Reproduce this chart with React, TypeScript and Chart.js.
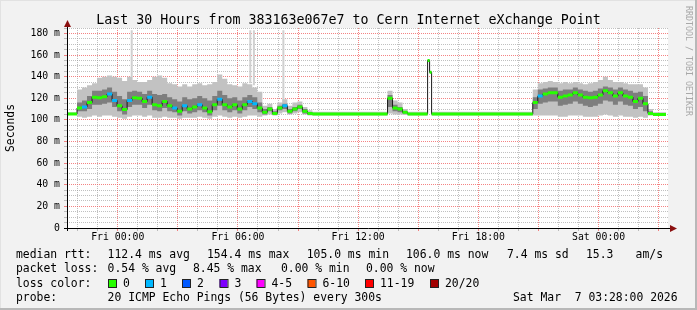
import React, { useEffect, useRef } from 'react';
import { Chart, registerables } from 'chart.js';

Chart.register(...registerables);

// ---------- data (hours since Thu 21:28, step start of each sample) ----------
const hours = [
  0, 0.5, 0.75, 1, 1.25, 1.5, 1.75, 2, 2.25, 2.5, 2.75, 3, 3.25, 3.5, 3.75, 4, 4.25, 4.5, 4.75, 5,
  5.25, 5.5, 5.75, 6, 6.25, 6.5, 6.75, 7, 7.25, 7.5, 7.75, 8, 8.25, 8.5, 8.75, 9, 9.25, 9.5, 9.75, 10,
  10.25, 10.5, 10.75, 11, 11.25, 11.5, 11.75, 12, 12.25, 16, 16.25, 16.5, 16.75, 17, 18, 18.1, 18.2,
  23.25, 23.5, 23.75, 24, 24.25, 24.5, 24.75, 25, 25.25, 25.5, 25.75, 26, 26.25, 26.5, 26.75, 27,
  27.25, 27.5, 27.75, 28, 28.25, 28.5, 28.75, 29, 29.25,
];
const endHour = 29.9;

// median rtt in ms
const median = [
  105.5,
  111, 112, 116, 121, 120.5, 121.5, 124, 118, 113, 109.5, 118, 120.5, 120, 117, 121, 114, 113, 117, 113,
  111, 108, 113, 110, 112, 114, 111, 107.5, 114, 119, 114, 112, 114, 110, 114, 117, 115, 111, 107, 110,
  106, 111, 113, 108, 110, 112, 108, 106,
  105.5,
  120, 111, 110, 107,
  105.5,
  155, 144, 105.5,
  116, 122, 124, 125, 125, 121, 122, 123, 125, 123, 121, 120.5, 121, 123, 127, 125, 122, 125, 122, 121,
  117, 120, 115, 106, 105,
];

// lost pings (of 20) per sample
const lostPings = [
  0,
  0, 1, 0, 0, 0, 0, 1, 1, 0, 0, 1, 0, 0, 0, 1, 0, 0, 0, 0,
  1, 0, 1, 0, 0, 1, 0, 0, 0, 1, 0, 0, 0, 0, 0, 1, 1, 0, 0, 0,
  0, 0, 1, 0, 0, 0, 0, 0,
  0,
  0, 0, 0, 0,
  0,
  0, 0, 0,
  0, 1, 0, 0, 0, 0, 0, 0, 0, 0, 0, 0, 0, 0, 0, 0, 0, 0, 0, 0,
  0, 0, 0, 0, 0,
];

// smoke (ping spread) in ms
const smokeMax = [
  107,
  128, 130, 132, 134, 139, 140, 141, 140, 139, 136, 140, 137, 135, 135, 137, 140, 141, 139, 134,
  133, 131, 133, 131, 133, 134, 132, 133, 135, 142, 138, 133, 132, 131, 134, 133, 130, 126, 113, 115,
  110, 116, 119, 113, 116, 117, 112, 109,
  107.5,
  127, 118, 116, 110,
  107.5,
  156, 145, 107.5,
  128, 134, 135, 136, 135, 134, 135, 134, 135, 134, 133, 134, 135, 137, 140, 137, 135, 135, 134, 133,
  133, 133, 130, 110, 107,
];
const smokeHi = [
  106,
  116, 118, 122, 127, 127, 128, 130, 126, 122, 119, 126, 127, 126, 124, 127, 124, 123, 124, 121,
  119, 117, 121, 119, 120, 122, 120, 118, 122, 127, 123, 120, 121, 118, 121, 123, 121, 116, 110, 112,
  108, 113, 115, 110, 112, 114, 110, 107,
  106,
  123, 114, 112, 108,
  106,
  155.5, 144.5, 106,
  121, 128, 129, 130, 130, 127, 128, 128, 130, 128, 127, 126, 127, 129, 131, 130, 128, 130, 128, 127,
  125, 126, 122, 108, 106,
];
const smokeLo = [
  105,
  108, 108, 110, 114, 114, 115, 116, 112, 108, 105, 112, 114, 114, 111, 114, 109, 108, 111, 108,
  107, 104, 108, 106, 107, 109, 107, 104, 109, 113, 109, 107, 109, 106, 109, 112, 110, 107, 105, 108,
  105, 109, 110, 106, 108, 110, 106, 105,
  105,
  112, 108, 107, 106,
  105,
  154.5, 143.5, 105,
  110, 115, 116, 117, 117, 113, 114, 115, 117, 115, 113, 112, 113, 115, 118, 117, 114, 117, 114, 113,
  110, 112, 108, 105, 104.5,
];
const smokeMin = [
  104.5,
  103, 102, 103, 104, 103, 104, 104, 103, 102, 101, 103, 104, 104, 103, 104, 102, 102, 103, 102,
  102, 101, 102, 102, 102, 103, 102, 101, 103, 104, 103, 102, 103, 102, 103, 104, 104, 103, 104, 105,
  104, 106, 107, 105, 106, 107, 105, 104,
  104,
  106, 105, 105, 104.5,
  104,
  154, 143, 104,
  104, 104, 104, 104, 104, 103, 103, 104, 104, 104, 103, 103, 103, 104, 105, 104, 103, 104, 103, 103,
  102, 103, 102, 104, 104,
];

// single slow pings drawn as thin smoke streaks
const outlierHours = [3.23, 9.15, 9.33, 10.8];
const outlierTops = [183, 183, 183, 183];
const outlierBases = [132, 134, 132, 112];

// axis ticks
const yMax = 185;
const yTickStep = 5;
const yLabelStep = 20;
const dayNames = ['Thu', 'Fri', 'Sat'];
const startHourOfDay = 21 + 28 / 60;
const spanHours = 30;

// legend
const lossLabels = ['0', '1', '2', '3', '4-5', '6-10', '11-19', '20/20'];
const lossColors = ['#26ff00', '#00b8ff', '#0059ff', '#7e00ff', '#ff00ff', '#ff5500', '#ff0000', '#a10000'];
const titleText = 'Last 30 Hours from 383163e067e7 to Cern Internet eXchange Point';
const rttRow = ['median rtt:', '112.4 ms avg', '154.4 ms max', '105.0 ms min', '106.0 ms now', '7.4 ms sd', '15.3', 'am/s'];
const lossRow = ['packet loss:', '0.54 % avg', '8.45 % max', '0.00 % min', '0.00 % now'];
const probeRow = ['probe:', '20 ICMP Echo Pings (56 Bytes) every 300s', 'Sat Mar  7 03:28:00 2026'];

// ---------- layout / style ----------
const W = 697;
const H = 310;
const PLOT_LEFT = 67;
const PLOT_RIGHT = 668;
const PLOT_TOP = 28;
const PLOT_BOTTOM = 228;
const FONT = "'DejaVu Sans Mono', monospace";
const BG = '#f2f2f2';
const MAJOR = 'rgba(240, 90, 90, 0.75)';
const MINOR = 'rgba(150, 150, 150, 0.6)';
const rttX = [16, 107.6, 207, 306.7, 406, 507, 586, 635.6];
const lossX = [16, 107.6, 193, 281, 366];
const probeX = [16, 107.6, 513];
const lossBoxX = [108, 145, 182, 219.5, 256.5, 307.5, 365, 430];

type Pt = { x: number; y: number | null };

function stepPoints(values: number[]): Pt[] {
  const pts: Pt[] = hours.map((h, i) => ({ x: h, y: values[i] }));
  pts.push({ x: endHour, y: values[values.length - 1] });
  return pts;
}

function lossBars(cls: number): Pt[] {
  const pts: Pt[] = [];
  hours.forEach((h, i) => {
    if (lostPings[i] !== cls) return;
    const next = i + 1 < hours.length ? hours[i + 1] : endHour;
    pts.push({ x: h, y: median[i] }, { x: next, y: median[i] }, { x: next, y: null });
  });
  return pts;
}

function outlierPoints(): Pt[] {
  const pts: Pt[] = [];
  outlierHours.forEach((h, i) => {
    pts.push({ x: h, y: outlierBases[i] }, { x: h, y: outlierTops[i] }, { x: h, y: null });
  });
  return pts;
}

function hourOfDay(v: number) {
  return Math.round(startHourOfDay + v) % 24;
}

const rrdPlugin = {
  id: 'rrdLook',
  beforeDraw(chart: any) {
    const { ctx, chartArea: a } = chart;
    ctx.save();
    ctx.fillStyle = BG;
    ctx.fillRect(0, 0, W, H);
    ctx.fillStyle = '#e2e2e2';
    ctx.fillRect(0, 0, W, 1);
    ctx.fillRect(0, 0, 1, H);
    ctx.fillStyle = '#b8b8b8';
    ctx.fillRect(0, H - 2, W, 2);
    ctx.fillRect(W - 2, 0, 2, H);
    ctx.fillStyle = '#ffffff';
    ctx.fillRect(a.left, a.top, a.right - a.left, a.bottom - a.top);
    ctx.restore();
  },
  afterDraw(chart: any) {
    const { ctx, chartArea: a } = chart;
    ctx.save();
    // axes
    ctx.strokeStyle = '#000';
    ctx.lineWidth = 1;
    ctx.beginPath();
    ctx.moveTo(a.left - 3, a.bottom + 0.5);
    ctx.lineTo(a.right + 5, a.bottom + 0.5);
    ctx.moveTo(a.left + 0.5, a.bottom + 3);
    ctx.lineTo(a.left + 0.5, a.top - 3);
    ctx.stroke();
    ctx.fillStyle = '#8b1010';
    ctx.beginPath();
    ctx.moveTo(a.right + 2, a.bottom - 3);
    ctx.lineTo(a.right + 9, a.bottom + 0.5);
    ctx.lineTo(a.right + 2, a.bottom + 4);
    ctx.closePath();
    ctx.fill();
    ctx.beginPath();
    ctx.moveTo(a.left - 3, a.top - 1);
    ctx.lineTo(a.left + 0.5, a.top - 8);
    ctx.lineTo(a.left + 4, a.top - 1);
    ctx.closePath();
    ctx.fill();

    // title
    ctx.fillStyle = '#000';
    ctx.textBaseline = 'alphabetic';
    ctx.textAlign = 'center';
    ctx.font = `13.3px ${FONT}`;
    ctx.fillText(titleText, 348.5, 24);

    // legend
    ctx.textAlign = 'left';
    ctx.font = `11.4px ${FONT}`;
    rttRow.forEach((t, i) => ctx.fillText(t, rttX[i], 258));
    lossRow.forEach((t, i) => ctx.fillText(t, lossX[i], 272));
    ctx.fillText('loss color:', 16, 286.5);
    lossLabels.forEach((t, i) => {
      const bx = lossBoxX[i];
      ctx.fillStyle = lossColors[i];
      ctx.fillRect(bx, 279, 8, 8);
      ctx.strokeStyle = '#222';
      ctx.strokeRect(bx + 0.5, 279.5, 8, 8);
      ctx.fillStyle = '#000';
      ctx.fillText(t, bx + 15, 286.5);
    });
    probeRow.forEach((t, i) => ctx.fillText(t, probeX[i], 300.5));

    // watermark
    ctx.translate(688, 6);
    ctx.rotate(Math.PI / 2);
    ctx.font = `8.3px ${FONT}`;
    ctx.fillStyle = '#a8a8a8';
    ctx.textBaseline = 'middle';
    ctx.fillText('RRDTOOL / TOBI OETIKER', 0, 0);
    ctx.restore();
  },
};

export default function App() {
  const ref = useRef<HTMLCanvasElement>(null);

  useEffect(() => {
    const prevMargin = document.body.style.margin;
    document.body.style.margin = '0';
    const none = 'rgba(0,0,0,0)';
    const smokeBase = { stepped: 'before', pointRadius: 0, borderWidth: 0, borderColor: none };
    const chart = new Chart(ref.current as HTMLCanvasElement, {
      type: 'line',
      data: {
        datasets: [
          { label: 'outliers', data: outlierPoints(), borderColor: '#d0d0d0', borderWidth: 2, pointRadius: 0, spanGaps: false, fill: false, order: 12 },
          { label: 'smokeMax', data: stepPoints(smokeMax), ...smokeBase, backgroundColor: '#c2c2c2', fill: 2, order: 11 },
          { label: 'smokeMin', data: stepPoints(smokeMin), ...smokeBase, fill: false, order: 11 },
          { label: 'smokeHi', data: stepPoints(smokeHi), ...smokeBase, backgroundColor: '#7e7e7e', fill: 4, order: 10 },
          { label: 'smokeLo', data: stepPoints(smokeLo), ...smokeBase, fill: false, order: 10 },
          { label: 'median', data: stepPoints(median), stepped: 'before', borderColor: '#1a1a1a', borderWidth: 1, pointRadius: 0, fill: false, order: 5 },
          ...lossColors.map((c, cls) => ({
            label: `loss ${lossLabels[cls]}`,
            data: lossBars(cls),
            borderColor: c,
            borderWidth: 3,
            borderCapStyle: 'butt',
            pointRadius: 0,
            spanGaps: false,
            fill: false,
            order: 1,
          })),
        ] as any,
      },
      options: {
        responsive: false,
        devicePixelRatio: 1,
        animation: false,
        events: [],
        layout: { padding: { left: 0, top: PLOT_TOP, right: W - PLOT_RIGHT, bottom: 0 } },
        plugins: { legend: { display: false }, tooltip: { enabled: false }, title: { display: false } },
        scales: {
          x: {
            type: 'linear',
            min: 0,
            max: spanHours,
            bounds: 'data',
            afterBuildTicks: (s: any) => {
              const first = Math.ceil(startHourOfDay) - startHourOfDay;
              const t = [];
              for (let v = first; v <= spanHours; v += 1) t.push({ value: v });
              s.ticks = t;
            },
            afterFit: (s: any) => {
              s.height = H - PLOT_BOTTOM;
            },
            grid: {
              color: (c: any) => (hourOfDay(c.tick.value) % 3 === 0 ? MAJOR : MINOR),
              tickColor: (c: any) => (hourOfDay(c.tick.value) % 3 === 0 ? MAJOR : MINOR),
              lineWidth: 1,
              drawTicks: true,
              tickLength: 3,
            },
            border: { display: false, dash: [1, 1] },
            ticks: {
              autoSkip: false,
              maxRotation: 0,
              minRotation: 0,
              padding: 1,
              color: '#000',
              font: { family: FONT, size: 9.8 },
              callback: (v: any) => {
                const total = Math.round(startHourOfDay + Number(v));
                const hod = total % 24;
                if (hod % 6 !== 0) return '';
                return `${dayNames[Math.floor(total / 24)]} ${String(hod).padStart(2, '0')}:00`;
              },
            },
          },
          y: {
            type: 'linear',
            min: 0,
            max: yMax,
            bounds: 'data',
            afterBuildTicks: (s: any) => {
              const t = [];
              for (let v = 0; v <= yMax; v += yTickStep) t.push({ value: v });
              s.ticks = t;
            },
            afterFit: (s: any) => {
              s.width = PLOT_LEFT;
            },
            grid: {
              color: (c: any) => {
                const v = c.tick.value;
                if (v === 0) return none;
                return v % yLabelStep === 0 ? MAJOR : MINOR;
              },
              tickColor: (c: any) => (c.tick.value % yLabelStep === 0 ? MAJOR : MINOR),
              lineWidth: 1,
              drawTicks: true,
              tickLength: 3,
            },
            border: { display: false, dash: [1, 1] },
            ticks: {
              autoSkip: false,
              padding: 4,
              color: '#000',
              font: { family: FONT, size: 9.8 },
              callback: (v: any) => {
                const n = Number(v);
                if (n % yLabelStep !== 0) return '';
                return n === 0 ? '0' : `${n} m`;
              },
            },
            title: {
              display: true,
              text: 'Seconds',
              color: '#000',
              font: { family: FONT, size: 11.4 },
              padding: { top: 4, bottom: 0 },
            },
          },
        },
      } as any,
      plugins: [rrdPlugin],
    });
    return () => {
      chart.destroy();
      document.body.style.margin = prevMargin;
    };
  }, []);

  return (
    <div style={{ position: 'relative', width: W, height: H }}>
      <canvas ref={ref} width={W} height={H} style={{ display: 'block', width: W, height: H }} />
    </div>
  );
}
